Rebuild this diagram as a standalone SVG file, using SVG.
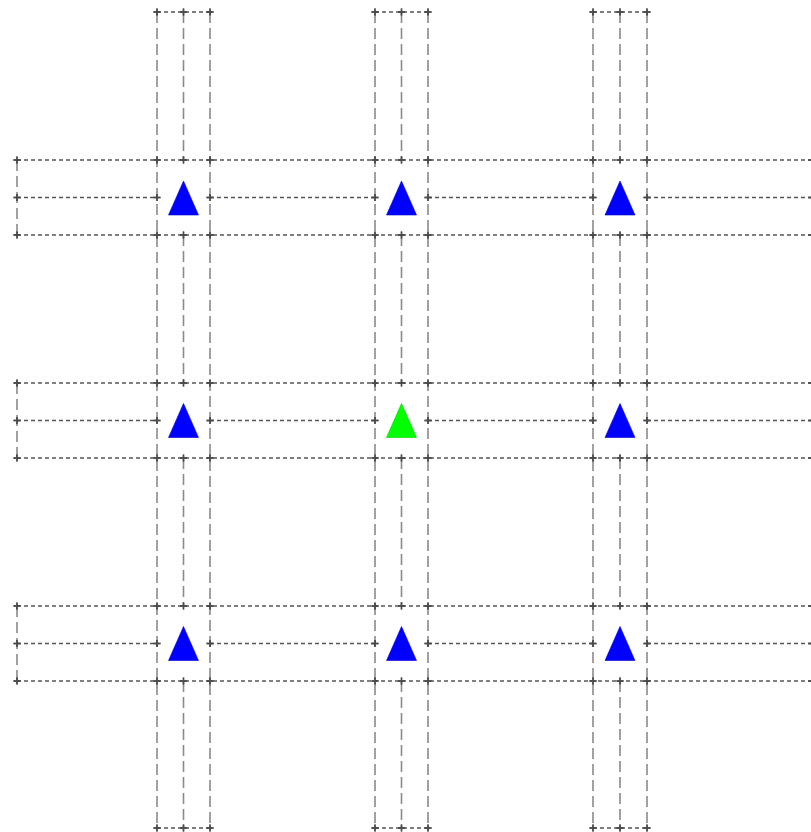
<svg xmlns="http://www.w3.org/2000/svg" width="811" height="832" viewBox="0 0 811 832">
<style>
.v{fill:none;stroke:#8a8a8a;stroke-width:1.6;stroke-dasharray:11 5}
.h{fill:none;stroke:#555;stroke-width:1.4;stroke-dasharray:4 3}
.m{marker-start:url(#p);marker-mid:url(#p);marker-end:url(#p)}
.blue{fill:#0000ff;stroke:#0000cc;stroke-width:0.6}
.green{fill:#00ff00;stroke:#00cc00;stroke-width:0.6}
</style>
<defs>
<marker id="p" markerUnits="userSpaceOnUse" markerWidth="8" markerHeight="8" refX="4" refY="4" orient="0" overflow="visible">
<path d="M0.5 4H7.5M4 0.5V7.5" stroke="#4a4a4a" stroke-width="1.4" fill="none"/>
</marker>
<path id="tri" d="M0 -17L15 17L-15 17Z"/>
</defs>
<g id="connectors">
<path class="v m" d="M157 12V160V197.5V235V383V420.5V458V606V643.5V681V828"/>
<path class="v m" d="M183.5 12V160M183.5 235V383M183.5 458V606M183.5 681V828"/>
<path class="v m" d="M210 12V160V197.5V235V383V420.5V458V606V643.5V681V828"/>
<path class="v m" d="M375 12V160V197.5V235V383V420.5V458V606V643.5V681V828"/>
<path class="v m" d="M401.5 12V160M401.5 235V383M401.5 458V606M401.5 681V828"/>
<path class="v m" d="M428 12V160V197.5V235V383V420.5V458V606V643.5V681V828"/>
<path class="v m" d="M593 12V160V197.5V235V383V420.5V458V606V643.5V681V828"/>
<path class="v m" d="M620 12V160M620 235V383M620 458V606M620 681V828"/>
<path class="v m" d="M647 12V160V197.5V235V383V420.5V458V606V643.5V681V828"/>
<path class="v m" d="M17 160V197.5V235M17 383V420.5V458M17 606V643.5V681"/>
<path class="v m" d="M812 160V197.5V235M812 383V420.5V458M812 606V643.5V681"/>
<path class="h m" d="M17 160H157H183.5H210H375H401.5H428H593H620H647H812"/>
<path class="h m" d="M17 197.5H157M210 197.5H375M428 197.5H593M647 197.5H812"/>
<path class="h m" d="M17 235H157H183.5H210H375H401.5H428H593H620H647H812"/>
<path class="h m" d="M17 383H157H183.5H210H375H401.5H428H593H620H647H812"/>
<path class="h m" d="M17 420.5H157M210 420.5H375M428 420.5H593M647 420.5H812"/>
<path class="h m" d="M17 458H157H183.5H210H375H401.5H428H593H620H647H812"/>
<path class="h m" d="M17 606H157H183.5H210H375H401.5H428H593H620H647H812"/>
<path class="h m" d="M17 643.5H157M210 643.5H375M428 643.5H593M647 643.5H812"/>
<path class="h m" d="M17 681H157H183.5H210H375H401.5H428H593H620H647H812"/>
<path class="h m" d="M157 12H183.5H210M375 12H401.5H428M593 12H620H647"/>
<path class="h m" d="M157 828H183.5H210M375 828H401.5H428M593 828H620H647"/>
</g>
<g id="n11"><use href="#tri" class="blue" x="183.5" y="198"/></g>
<g id="n12"><use href="#tri" class="blue" x="401.5" y="198"/></g>
<g id="n13"><use href="#tri" class="blue" x="620" y="198"/></g>
<g id="n21"><use href="#tri" class="blue" x="183.5" y="420.5"/></g>
<g id="n22"><use href="#tri" class="green" x="401.5" y="420.5"/></g>
<g id="n23"><use href="#tri" class="blue" x="620" y="420.5"/></g>
<g id="n31"><use href="#tri" class="blue" x="183.5" y="643.5"/></g>
<g id="n32"><use href="#tri" class="blue" x="401.5" y="643.5"/></g>
<g id="n33"><use href="#tri" class="blue" x="620" y="643.5"/></g>
</svg>
